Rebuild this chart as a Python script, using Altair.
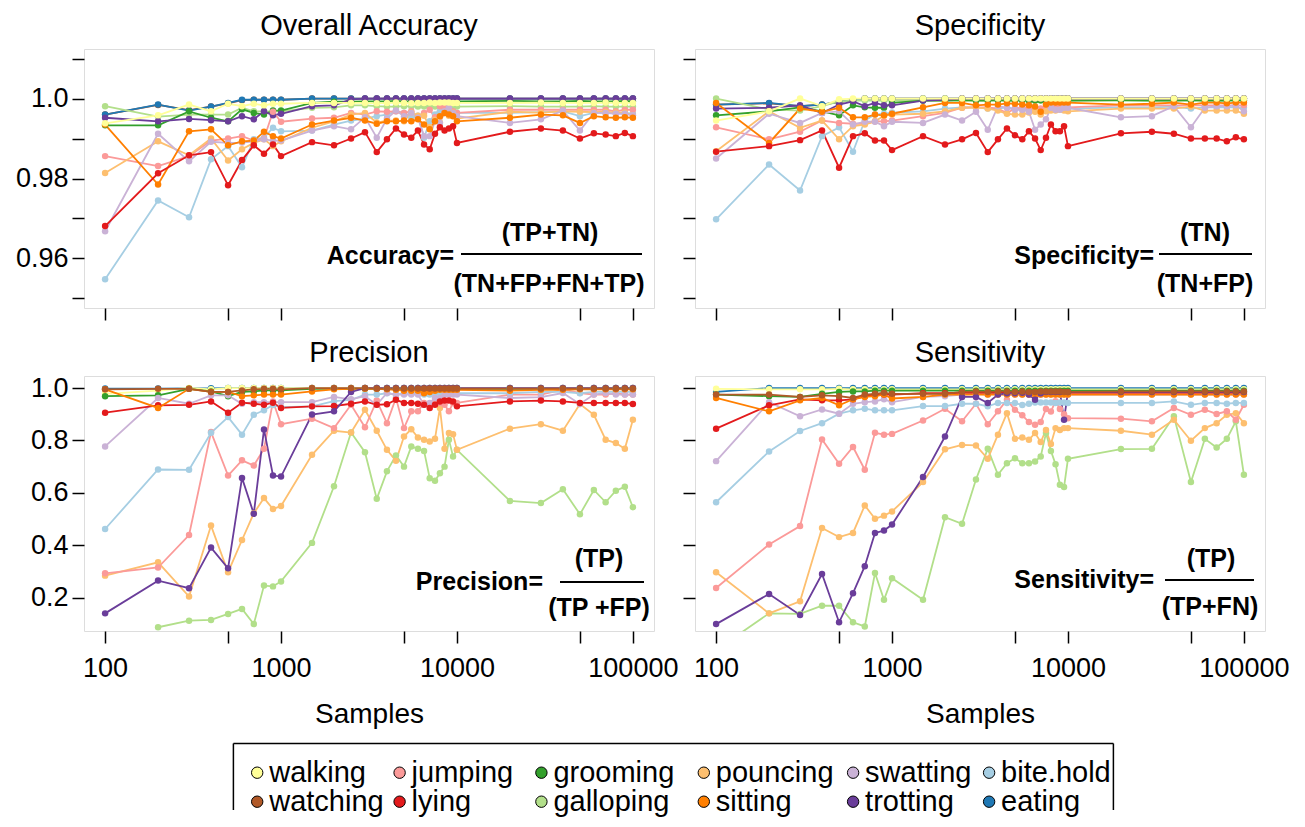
import altair as alt
import pandas as pd

# ---------------- data ----------------
samples = [100, 200, 300, 400, 500, 600, 700, 800, 900, 1000,
           1500, 2000, 2500, 3000, 3500, 4000, 4500, 5000, 5500, 6000,
           6500, 7000, 7500, 8000, 8500, 9000, 9500, 10000,
           20000, 30000, 40000, 50000, 60000, 70000, 80000, 90000, 100000]

behaviours = ["walking", "jumping", "grooming", "pouncing", "swatting", "bite.hold",
              "watching", "lying", "galloping", "sitting", "trotting", "eating"]
colors = ["#FFFF99", "#FB9A99", "#33A02C", "#FDBF6F", "#CAB2D6", "#A6CEE3",
          "#B15928", "#E31A1C", "#B2DF8A", "#FF7F00", "#6A3D9A", "#1F78B4"]

x_tick_values = [100, 500, 1000, 5000, 10000, 50000, 100000]
x_tick_labels = ["100", "", "1000", "", "10000", "", "100000"]
top_tick_values = [0.95, 0.96, 0.97, 0.98, 0.99, 1.0, 1.01]
top_tick_labels = ["", "0.96", "", "0.98", "", "1.0", ""]
bot_tick_values = [0.2, 0.4, 0.6, 0.8, 1.0]
bot_tick_labels = ["0.2", "0.4", "0.6", "0.8", "1.0"]

panel_titles = ["Overall Accuracy", "Specificity", "Precision", "Sensitivity"]
x_title = "Samples"
formula_lhs = ["Accuracy=", "Specificity=", "Precision=", "Sensitivity="]
formula_num = ["(TP+TN)", "(TN)", "(TP)", "(TP)"]
formula_den = ["(TN+FP+FN+TP)", "(TN+FP)", "(TP +FP)", "(TP+FN)"]

# ---- Overall accuracy ----
acc_walking = [0.9938, 0.9958, 0.9985, 0.9968, 0.9987, 0.9981, 0.9987, 0.9983, 0.9987, 0.9987,
               0.9989, 0.9989, 0.9989, 0.9989, 0.9988, 0.9989, 0.9990, 0.9989, 0.9988, 0.9989,
               0.9989, 0.9990, 0.9989, 0.9990, 0.9990, 0.9990, 0.9989, 0.9989,
               0.9989, 0.9990, 0.9989, 0.9989, 0.9989, 0.9990, 0.9989, 0.9989, 0.9989]
acc_jumping = [0.9856, 0.9831, 0.9856, 0.9895, 0.9900, 0.9906, 0.9895, 0.9900, 0.9967, 0.9942,
               0.9950, 0.9952, 0.9964, 0.9960, 0.9968, 0.9967, 0.9968, 0.9964, 0.9968, 0.9952,
               0.9964, 0.9972, 0.9953, 0.9981, 0.9977, 0.9977, 0.9968, 0.9964,
               0.9972, 0.9972, 0.9972, 0.9972, 0.9972, 0.9972, 0.9968, 0.9972, 0.9972]
acc_grooming = [0.9933, 0.9933, 0.9968, 0.9952, 0.9943, 0.9973, 0.9964, 0.9960, 0.9970, 0.9970,
                0.9989, 0.9992, 0.9992, 0.9993, 0.9993, 0.9993, 0.9994, 0.9993, 0.9993, 0.9993,
                0.9993, 0.9993, 0.9994, 0.9993, 0.9993, 0.9993, 0.9993, 0.9993,
                0.9994, 0.9993, 0.9993, 0.9994, 0.9993, 0.9993, 0.9993, 0.9994, 0.9993]
acc_pouncing = [0.9814, 0.9893, 0.9858, 0.9900, 0.9845, 0.9873, 0.9889, 0.9898, 0.9881, 0.9893,
                0.9927, 0.9943, 0.9960, 0.9964, 0.9940, 0.9945, 0.9945, 0.9943, 0.9965, 0.9957,
                0.9957, 0.9928, 0.9947, 0.9940, 0.9965, 0.9957, 0.9965, 0.9950,
                0.9967, 0.9965, 0.9968, 0.9967, 0.9966, 0.9967, 0.9965, 0.9965, 0.9958]
acc_swatting = [0.9668, 0.9912, 0.9843, 0.9892, 0.9889, 0.9890, 0.9893, 0.9898, 0.9895, 0.9895,
                0.9920, 0.9931, 0.9923, 0.9953, 0.9902, 0.9950, 0.9970, 0.9956, 0.9964, 0.9952,
                0.9906, 0.9906, 0.9943, 0.9939, 0.9968, 0.9977, 0.9964, 0.9956,
                0.9939, 0.9948, 0.9970, 0.9920, 0.9964, 0.9964, 0.9962, 0.9962, 0.9958]
acc_bitehold = [0.9548, 0.9745, 0.9703, 0.9848, 0.9881, 0.9828, 0.9898, 0.9902, 0.9927, 0.9918,
                0.9920, 0.9935, 0.9945, 0.9950, 0.9956, 0.9960, 0.9968, 0.9964, 0.9952, 0.9957,
                0.9902, 0.9943, 0.9960, 0.9968, 0.9964, 0.9968, 0.9967, 0.9964,
                0.9964, 0.9966, 0.9968, 0.9956, 0.9964, 0.9964, 0.9964, 0.9964, 0.9962]
acc_watching = [0.9960, 0.9984, 0.9971, 0.9980, 0.9988, 0.9996, 0.9997, 0.9997, 0.9997, 0.9997,
                1.0000, 1.0000, 1.0000, 1.0000, 1.0000, 1.0000, 1.0000, 1.0000, 1.0000, 1.0000,
                1.0000, 1.0000, 1.0000, 1.0000, 1.0000, 1.0000, 1.0000, 1.0000,
                1.0000, 1.0000, 1.0000, 1.0000, 1.0000, 1.0000, 1.0000, 1.0000, 1.0000]
acc_lying = [0.9681, 0.9813, 0.9858, 0.9866, 0.9783, 0.9846, 0.9883, 0.9862, 0.9885, 0.9856,
             0.9891, 0.9883, 0.9900, 0.9916, 0.9866, 0.9898, 0.9925, 0.9910, 0.9902, 0.9920,
             0.9885, 0.9873, 0.9912, 0.9928, 0.9920, 0.9925, 0.9931, 0.9889,
             0.9917, 0.9925, 0.9920, 0.9900, 0.9913, 0.9910, 0.9906, 0.9914, 0.9906]
acc_galloping = [0.9981, 0.9955, 0.9960, 0.9960, 0.9960, 0.9977, 0.9968, 0.9968, 0.9968, 0.9968,
                 0.9977, 0.9978, 0.9983, 0.9983, 0.9981, 0.9980, 0.9980, 0.9981, 0.9980, 0.9980,
                 0.9980, 0.9981, 0.9980, 0.9980, 0.9981, 0.9980, 0.9980, 0.9980,
                 0.9981, 0.9980, 0.9980, 0.9980, 0.9981, 0.9980, 0.9980, 0.9980, 0.9980]
acc_sitting = [0.9935, 0.9785, 0.9918, 0.9923, 0.9883, 0.9893, 0.9895, 0.9917, 0.9906, 0.9900,
               0.9935, 0.9945, 0.9952, 0.9945, 0.9937, 0.9943, 0.9943, 0.9945, 0.9943, 0.9948,
               0.9935, 0.9923, 0.9943, 0.9956, 0.9964, 0.9960, 0.9956, 0.9943,
               0.9952, 0.9960, 0.9958, 0.9939, 0.9956, 0.9953, 0.9952, 0.9953, 0.9952]
acc_trotting = [0.9952, 0.9943, 0.9949, 0.9946, 0.9943, 0.9956, 0.9948, 0.9968, 0.9958, 0.9962,
                0.9981, 0.9983, 0.9998, 1.0000, 1.0000, 1.0000, 1.0000, 1.0000, 1.0000, 1.0000,
                1.0000, 1.0000, 1.0000, 1.0000, 1.0000, 1.0000, 1.0000, 1.0000,
                1.0000, 1.0000, 1.0000, 1.0000, 1.0000, 1.0000, 1.0000, 1.0000, 1.0000]
acc_eating = [0.9960, 0.9985, 0.9970, 0.9980, 0.9989, 0.9997, 0.9997, 0.9997, 0.9997, 0.9997,
              1.0000, 1.0000, 1.0000, 1.0000, 1.0000, 1.0000, 1.0000, 1.0000, 1.0000, 1.0000,
              1.0000, 1.0000, 1.0000, 1.0000, 1.0000, 1.0000, 1.0000, 1.0000,
              1.0000, 1.0000, 1.0000, 1.0000, 1.0000, 1.0000, 1.0000, 1.0000, 1.0000]

# ---- Specificity ----
spe_walking = [0.9945, 0.9968, 1.0000, 0.9981, 0.9998, 1.0000, 1.0000, 1.0000, 1.0000, 1.0000,
               1.0000, 1.0000, 1.0000, 1.0000, 1.0000, 1.0000, 1.0000, 1.0000, 1.0000, 1.0000,
               1.0000, 1.0000, 1.0000, 1.0000, 1.0000, 1.0000, 1.0000, 1.0000,
               1.0000, 1.0000, 1.0000, 1.0000, 1.0000, 1.0000, 1.0000, 1.0000, 1.0000]
spe_jumping = [0.9928, 0.9898, 0.9917, 0.9945, 0.9939, 0.9937, 0.9937, 0.9943, 0.9943, 0.9945,
               0.9956, 0.9964, 0.9977, 0.9978, 0.9978, 0.9975, 0.9964, 0.9975, 0.9978, 0.9975,
               0.9970, 0.9975, 0.9978, 0.9980, 0.9978, 0.9978, 0.9978, 0.9978,
               0.9983, 0.9983, 0.9983, 0.9983, 0.9983, 0.9983, 0.9983, 0.9983, 0.9983]
spe_grooming = [0.9958, 0.9968, 0.9978, 0.9968, 0.9958, 0.9983, 0.9978, 0.9977, 0.9977, 0.9989,
                0.9995, 0.9995, 0.9996, 0.9995, 0.9995, 0.9996, 0.9995, 0.9995, 0.9996, 0.9995,
                0.9995, 0.9996, 0.9995, 0.9995, 0.9996, 0.9995, 0.9995, 0.9995,
                0.9996, 0.9995, 0.9995, 0.9996, 0.9995, 0.9995, 0.9995, 0.9996, 0.9995]
spe_pouncing = [0.9868, 0.9968, 0.9927, 0.9945, 0.9898, 0.9931, 0.9935, 0.9943, 0.9957, 0.9960,
                0.9962, 0.9968, 0.9977, 0.9978, 0.9975, 0.9970, 0.9962, 0.9960, 0.9960, 0.9965,
                0.9967, 0.9960, 0.9968, 0.9970, 0.9970, 0.9972, 0.9970, 0.9968,
                0.9975, 0.9975, 0.9975, 0.9980, 0.9970, 0.9970, 0.9970, 0.9970, 0.9962]
spe_swatting = [0.9850, 0.9962, 0.9939, 0.9964, 0.9968, 0.9935, 0.9942, 0.9942, 0.9931, 0.9942,
                0.9939, 0.9960, 0.9945, 0.9967, 0.9922, 0.9981, 0.9977, 0.9972, 0.9972, 0.9967,
                0.9922, 0.9935, 0.9948, 0.9977, 0.9972, 0.9972, 0.9977, 0.9977,
                0.9953, 0.9956, 0.9981, 0.9928, 0.9977, 0.9981, 0.9981, 0.9983, 0.9968]
spe_bitehold = [0.9698, 0.9835, 0.9770, 0.9906, 0.9928, 0.9867, 0.9945, 0.9960, 0.9962, 0.9965,
                0.9968, 0.9975, 0.9978, 0.9978, 0.9975, 0.9975, 0.9978, 0.9975, 0.9972, 0.9975,
                0.9970, 0.9972, 0.9975, 0.9978, 0.9975, 0.9978, 0.9978, 0.9975,
                0.9978, 0.9978, 0.9980, 0.9975, 0.9978, 0.9978, 0.9978, 0.9978, 0.9978]
spe_watching = [0.9985, 0.9988, 0.9981, 0.9985, 0.9991, 0.9996, 1.0000, 1.0000, 1.0000, 1.0000,
                1.0000, 1.0000, 1.0000, 1.0000, 1.0000, 1.0000, 1.0000, 1.0000, 1.0000, 1.0000,
                1.0000, 1.0000, 1.0000, 1.0000, 1.0000, 1.0000, 1.0000, 1.0000,
                1.0000, 1.0000, 1.0000, 1.0000, 1.0000, 1.0000, 1.0000, 1.0000, 1.0000]
spe_lying = [0.9867, 0.9881, 0.9896, 0.9920, 0.9827, 0.9906, 0.9913, 0.9895, 0.9895, 0.9871,
             0.9906, 0.9885, 0.9898, 0.9914, 0.9866, 0.9898, 0.9925, 0.9908, 0.9898, 0.9918,
             0.9900, 0.9871, 0.9902, 0.9935, 0.9918, 0.9918, 0.9931, 0.9881,
             0.9913, 0.9917, 0.9912, 0.9900, 0.9900, 0.9900, 0.9893, 0.9903, 0.9898]
spe_galloping = [1.0000, 0.9973, 0.9970, 0.9981, 0.9993, 0.9995, 0.9995, 0.9995, 0.9995, 0.9995,
                 0.9995, 0.9995, 0.9995, 0.9995, 0.9995, 0.9995, 0.9995, 0.9995, 0.9995, 0.9995,
                 0.9995, 0.9995, 0.9995, 0.9995, 0.9995, 0.9995, 0.9995, 0.9995,
                 0.9995, 0.9995, 0.9995, 0.9995, 0.9995, 0.9995, 0.9995, 0.9995, 0.9995]
spe_sitting = [0.9989, 0.9889, 0.9975, 0.9967, 0.9977, 0.9953, 0.9953, 0.9960, 0.9958, 0.9962,
               0.9978, 0.9989, 0.9989, 0.9983, 0.9985, 0.9985, 0.9988, 0.9987, 0.9985, 0.9983,
               0.9980, 0.9967, 0.9985, 0.9990, 0.9990, 0.9990, 0.9990, 0.9990,
               0.9985, 0.9987, 0.9990, 0.9985, 0.9990, 0.9990, 0.9988, 0.9990, 0.9990]
spe_trotting = [0.9975, 0.9977, 0.9983, 0.9964, 0.9985, 0.9993, 0.9981, 0.9989, 0.9983, 0.9983,
                0.9995, 0.9997, 1.0000, 1.0000, 1.0000, 1.0000, 1.0000, 1.0000, 1.0000, 1.0000,
                1.0000, 1.0000, 1.0000, 1.0000, 1.0000, 1.0000, 1.0000, 1.0000,
                1.0000, 1.0000, 1.0000, 1.0000, 1.0000, 1.0000, 1.0000, 1.0000, 1.0000]
spe_eating = [0.9985, 0.9989, 0.9981, 0.9985, 0.9992, 0.9996, 1.0000, 1.0000, 1.0000, 1.0000,
              1.0000, 1.0000, 1.0000, 1.0000, 1.0000, 1.0000, 1.0000, 1.0000, 1.0000, 1.0000,
              1.0000, 1.0000, 1.0000, 1.0000, 1.0000, 1.0000, 1.0000, 1.0000,
              1.0000, 1.0000, 1.0000, 1.0000, 1.0000, 1.0000, 1.0000, 1.0000, 1.0000]

# ---- Precision ----
pre_walking = [0.978, 0.990, 1.000, 0.995, 1.000, 1.000, 1.000, 1.000, 1.000, 1.000,
               1.000, 1.000, 1.000, 1.000, 1.000, 1.000, 1.000, 1.000, 1.000, 1.000,
               1.000, 1.000, 1.000, 1.000, 1.000, 1.000, 1.000, 1.000,
               1.000, 1.000, 1.000, 1.000, 1.000, 1.000, 1.000, 1.000, 1.000]
pre_jumping = [0.293, 0.315, 0.439, 0.832, 0.666, 0.724, 0.704, 0.768, 0.949, 0.862,
               0.883, 0.847, 0.936, 0.850, 0.952, 0.866, 0.962, 0.847, 0.911, 0.911,
               0.943, 0.936, 0.943, 0.943, 0.936, 0.911, 0.943, 0.943,
               0.975, 0.975, 0.994, 0.981, 0.975, 0.975, 0.981, 0.975, 0.975]
pre_grooming = [0.969, 0.972, 0.997, 0.987, 0.969, 0.985, 0.987, 0.991, 0.991, 0.991,
                0.997, 0.997, 0.997, 0.997, 0.997, 0.997, 0.997, 0.997, 0.997, 0.997,
                0.997, 0.997, 0.997, 0.997, 0.997, 0.997, 0.997, 0.997,
                0.997, 0.997, 0.997, 0.997, 0.997, 0.997, 0.997, 0.997, 0.997]
pre_pouncing = [0.284, 0.335, 0.204, 0.475, 0.297, 0.420, 0.522, 0.580, 0.538, 0.550,
                0.745, 0.837, 0.830, 0.917, 0.837, 0.764, 0.722, 0.815, 0.843, 0.811,
                0.803, 0.796, 0.806, 0.924, 0.768, 0.828, 0.824, 0.764,
                0.845, 0.862, 0.837, 0.939, 0.898, 0.803, 0.790, 0.768, 0.879]
pre_swatting = [0.777, 0.962, 0.940, 0.972, 0.972, 0.940, 0.946, 0.946, 0.946, 0.946,
                0.946, 0.966, 0.957, 0.969, 0.936, 0.981, 0.975, 0.975, 0.975, 0.975,
                0.936, 0.943, 0.962, 0.962, 0.975, 0.975, 0.975, 0.975,
                0.962, 0.965, 0.981, 0.939, 0.975, 0.981, 0.975, 0.975, 0.975]
pre_bitehold = [0.462, 0.689, 0.688, 0.829, 0.889, 0.822, 0.898, 0.915, 0.935, 0.927,
                0.930, 0.950, 0.955, 0.975, 0.975, 0.980, 0.975, 0.980, 0.980, 0.980,
                0.975, 0.975, 0.980, 0.980, 0.980, 0.980, 0.980, 0.980,
                0.980, 0.985, 0.985, 0.980, 0.985, 0.985, 0.985, 0.985, 0.985]
pre_watching = [0.995, 0.997, 0.997, 0.985, 0.985, 0.991, 0.995, 0.997, 0.997, 0.995,
                1.000, 1.000, 1.000, 1.000, 0.998, 0.998, 0.998, 0.998, 0.998, 0.998,
                0.998, 0.998, 0.998, 0.998, 0.998, 0.998, 0.998, 0.998,
                0.998, 0.998, 0.998, 0.998, 0.998, 0.998, 0.998, 0.998, 0.998]
pre_lying = [0.906, 0.934, 0.936, 0.949, 0.906, 0.944, 0.940, 0.936, 0.944, 0.924,
             0.930, 0.931, 0.940, 0.949, 0.936, 0.938, 0.955, 0.943, 0.943, 0.940,
             0.936, 0.924, 0.936, 0.949, 0.952, 0.952, 0.949, 0.930,
             0.949, 0.952, 0.949, 0.943, 0.943, 0.943, 0.943, 0.943, 0.939]
pre_galloping = [None, 0.087, 0.112, 0.115, 0.138, 0.157, 0.099, 0.246, 0.243, 0.262,
                 0.409, 0.625, 0.830, 0.755, 0.577, 0.682, 0.743, 0.700, 0.777, 0.768,
                 0.760, 0.656, 0.646, 0.675, 0.700, 0.803, 0.739, 0.764,
                 0.569, 0.561, 0.614, 0.518, 0.611, 0.564, 0.608, 0.623, 0.545]
pre_sitting = [0.995, 0.924, 0.997, 0.985, 0.985, 0.969, 0.972, 0.975, 0.975, 0.975,
               0.987, 0.995, 0.997, 0.997, 0.997, 0.995, 0.993, 0.990, 0.990, 0.990,
               0.980, 0.985, 0.990, 0.993, 0.993, 0.993, 0.993, 0.993,
               0.990, 0.993, 0.993, 0.995, 0.995, 0.995, 0.995, 0.995, 0.995]
pre_trotting = [0.140, 0.265, 0.236, 0.391, 0.312, 0.657, 0.520, 0.842, 0.666, 0.662,
                0.899, 0.911, 0.985, 1.000, 1.000, 1.000, 1.000, 1.000, 1.000, 1.000,
                1.000, 1.000, 1.000, 1.000, 1.000, 1.000, 1.000, 1.000,
                1.000, 1.000, 1.000, 1.000, 1.000, 1.000, 1.000, 1.000, 1.000]
pre_eating = [0.998, 0.998, 0.999, 0.999, 1.000, 1.000, 1.000, 1.000, 1.000, 1.000,
              1.000, 1.000, 1.000, 1.000, 1.000, 1.000, 1.000, 1.000, 1.000, 1.000,
              1.000, 1.000, 1.000, 1.000, 1.000, 1.000, 1.000, 1.000,
              1.000, 1.000, 1.000, 1.000, 1.000, 1.000, 1.000, 1.000, 1.000]

# ---- Sensitivity ----
sen_walking = [0.997, 0.995, 0.995, 0.995, 0.997, 0.995, 0.995, 0.995, 0.995, 0.995,
               0.995, 0.995, 0.995, 0.995, 0.995, 0.995, 0.995, 0.995, 0.995, 0.995,
               0.995, 0.995, 0.995, 0.995, 0.995, 0.995, 0.995, 0.995,
               0.995, 0.995, 0.995, 0.995, 0.995, 0.995, 0.995, 0.995, 0.995]
sen_jumping = [0.237, 0.403, 0.473, 0.804, 0.711, 0.775, 0.688, 0.829, 0.822, 0.825,
               0.876, 0.921, 0.873, 0.940, 0.862, 0.911, 0.955, 0.917, 0.896, 0.870,
               0.860, 0.870, 0.920, 0.910, 0.950, 0.920, 0.900, 0.885,
               0.883, 0.873, 0.924, 0.898, 0.917, 0.901, 0.911, 0.879, 0.936]
sen_grooming = [0.975, 0.969, 0.966, 0.978, 0.985, 0.987, 0.987, 0.990, 0.990, 0.990,
                0.990, 0.990, 0.990, 0.990, 0.990, 0.990, 0.990, 0.990, 0.990, 0.990,
                0.990, 0.990, 0.990, 0.990, 0.990, 0.990, 0.990, 0.990,
                0.990, 0.990, 0.990, 0.990, 0.990, 0.990, 0.990, 0.990, 0.990]
sen_pouncing = [0.297, 0.140, 0.186, 0.466, 0.431, 0.447, 0.552, 0.501, 0.513, 0.529,
                0.641, 0.766, 0.783, 0.781, 0.730, 0.822, 0.904, 0.806, 0.811, 0.803,
                0.828, 0.794, 0.840, 0.786, 0.847, 0.840, 0.847, 0.847,
                0.837, 0.822, 0.879, 0.799, 0.847, 0.866, 0.898, 0.904, 0.866]
sen_swatting = [0.721, 0.946, 0.892, 0.918, 0.902, 0.940, 0.946, 0.949, 0.957, 0.946,
                0.966, 0.969, 0.975, 0.978, 0.975, 0.978, 0.975, 0.975, 0.975, 0.975,
                0.975, 0.975, 0.975, 0.975, 0.975, 0.975, 0.975, 0.975,
                0.975, 0.975, 0.975, 0.975, 0.975, 0.975, 0.975, 0.975, 0.975]
sen_bitehold = [0.564, 0.758, 0.836, 0.866, 0.902, 0.915, 0.921, 0.915, 0.915, 0.915,
                0.931, 0.931, 0.940, 0.940, 0.930, 0.943, 0.943, 0.943, 0.935, 0.940,
                0.945, 0.945, 0.945, 0.945, 0.943, 0.945, 0.945, 0.943,
                0.943, 0.943, 0.949, 0.936, 0.943, 0.943, 0.940, 0.943, 0.943]
sen_watching = [0.975, 0.975, 0.966, 0.972, 0.969, 0.962, 0.975, 0.978, 0.982, 0.978,
                0.978, 0.978, 0.985, 0.987, 0.985, 0.987, 0.987, 0.985, 0.987, 0.985,
                0.985, 0.987, 0.987, 0.987, 0.987, 0.987, 0.985, 0.985,
                0.987, 0.987, 0.987, 0.987, 0.987, 0.987, 0.987, 0.987, 0.987]
sen_lying = [0.845, 0.934, 0.957, 0.953, 0.953, 0.957, 0.969, 0.975, 0.975, 0.975,
             0.980, 0.980, 0.982, 0.982, 0.982, 0.982, 0.982, 0.982, 0.982, 0.982,
             0.982, 0.982, 0.982, 0.982, 0.982, 0.982, 0.982, 0.982,
             0.982, 0.982, 0.982, 0.982, 0.982, 0.982, 0.982, 0.982, 0.982]
sen_galloping = [0.000, 0.140, 0.138, 0.169, 0.169, 0.106, 0.090, 0.294, 0.192, 0.274,
                 0.192, 0.507, 0.482, 0.651, 0.768, 0.669, 0.713, 0.732, 0.713, 0.713,
                 0.720, 0.739, 0.828, 0.760, 0.709, 0.631, 0.622, 0.730,
                 0.767, 0.768, 0.892, 0.641, 0.806, 0.773, 0.806, 0.873, 0.669]
sen_sitting = [0.962, 0.911, 0.953, 0.962, 0.934, 0.957, 0.966, 0.969, 0.975, 0.960,
               0.966, 0.975, 0.975, 0.975, 0.975, 0.975, 0.975, 0.975, 0.975, 0.975,
               0.975, 0.975, 0.975, 0.975, 0.975, 0.975, 0.975, 0.975,
               0.975, 0.975, 0.975, 0.975, 0.975, 0.975, 0.975, 0.975, 0.975]
sen_trotting = [0.099, 0.214, 0.134, 0.290, 0.106, 0.217, 0.320, 0.447, 0.456, 0.479,
                0.660, 0.815, 0.966, 0.966, 0.943, 0.975, 0.980, 0.980, 0.982, 0.975,
                0.955, 0.980, 0.985, 0.985, 0.985, 0.985, 0.879, 0.985,
                0.985, 0.985, 0.985, 0.985, 0.985, 0.985, 0.985, 0.985, 0.985]
sen_eating = [0.985, 1.000, 1.000, 1.000, 1.000, 1.000, 1.000, 1.000, 1.000, 1.000,
              1.000, 1.000, 1.000, 1.000, 1.000, 1.000, 1.000, 1.000, 1.000, 1.000,
              1.000, 1.000, 1.000, 1.000, 1.000, 1.000, 1.000, 1.000,
              1.000, 1.000, 1.000, 1.000, 1.000, 1.000, 1.000, 1.000, 1.000]

accuracy = {"walking": acc_walking, "jumping": acc_jumping, "grooming": acc_grooming,
            "pouncing": acc_pouncing, "swatting": acc_swatting, "bite.hold": acc_bitehold,
            "watching": acc_watching, "lying": acc_lying, "galloping": acc_galloping,
            "sitting": acc_sitting, "trotting": acc_trotting, "eating": acc_eating}
specificity = {"walking": spe_walking, "jumping": spe_jumping, "grooming": spe_grooming,
               "pouncing": spe_pouncing, "swatting": spe_swatting, "bite.hold": spe_bitehold,
               "watching": spe_watching, "lying": spe_lying, "galloping": spe_galloping,
               "sitting": spe_sitting, "trotting": spe_trotting, "eating": spe_eating}
precision = {"walking": pre_walking, "jumping": pre_jumping, "grooming": pre_grooming,
             "pouncing": pre_pouncing, "swatting": pre_swatting, "bite.hold": pre_bitehold,
             "watching": pre_watching, "lying": pre_lying, "galloping": pre_galloping,
             "sitting": pre_sitting, "trotting": pre_trotting, "eating": pre_eating}
sensitivity = {"walking": sen_walking, "jumping": sen_jumping, "grooming": sen_grooming,
               "pouncing": sen_pouncing, "swatting": sen_swatting, "bite.hold": sen_bitehold,
               "watching": sen_watching, "lying": sen_lying, "galloping": sen_galloping,
               "sitting": sen_sitting, "trotting": sen_trotting, "eating": sen_eating}

for d in (accuracy, specificity, precision, sensitivity):
    for k, v in d.items():
        assert len(v) == len(samples), (k, len(v))

# drawing order (last drawn on top)
top_order = ["watching", "eating", "galloping", "grooming", "trotting", "bite.hold",
             "jumping", "pouncing", "swatting", "sitting", "lying", "walking"]
bot_order = ["eating", "walking", "grooming", "galloping", "pouncing", "jumping",
             "bite.hold", "swatting", "lying", "sitting", "trotting", "watching"]


def long_frame(series, order):
    rows = []
    for b in order:
        for s, v in zip(samples, series[b]):
            if v is not None:
                rows.append({"samples": s, "value": v, "behaviour": b, "rank": order.index(b)})
    return pd.DataFrame(rows)


# ---------------- layout constants ----------------
FONT = "Liberation Sans"
PW = 570
TOP_H = 259
BOT_H = 255
X_DOMAIN = [10 ** 1.88, 10 ** 5.12]
TOP_DOMAIN = [0.9476, 1.0124]
BOT_DOMAIN = [0.0727, 1.0459]

color_scale = alt.Scale(domain=behaviours, range=colors)


def label_expr(values, labels):
    expr = "''"
    for v, l in zip(values, labels):
        if l:
            expr = f"abs(datum.value - {v}) < 1e-9 ? '{l}' : " + expr
    return expr


def panel(df, idx, h, ydom, yvals, ylabs, show_ylab, show_xlab, fpos):
    xaxis = alt.Axis(values=x_tick_values, labelExpr=label_expr(x_tick_values, x_tick_labels),
                     labels=show_xlab, title=x_title if show_xlab else "",
                     tickSize=12, tickWidth=1.5, tickColor="black", domain=False, grid=False,
                     labelFontSize=27, labelFont=FONT, labelColor="black", labelPadding=12,
                     labelOverlap=False, labelFlush=False,
                     titleFontSize=28, titleFont=FONT, titleFontWeight="normal",
                     titleColor="black", titlePadding=19)
    yaxis = alt.Axis(values=yvals, labelExpr=label_expr(yvals, ylabs), labels=show_ylab,
                     title="", tickSize=12, tickWidth=1.5, tickColor="black", domain=False,
                     grid=False, labelFontSize=27, labelFont=FONT, labelColor="black",
                     labelPadding=4, labelOverlap=False, labelFlush=False)
    x = alt.X("samples:Q", scale=alt.Scale(type="log", domain=X_DOMAIN, nice=False), axis=xaxis)
    y = alt.Y("value:Q", scale=alt.Scale(domain=ydom, nice=False, zero=False), axis=yaxis)
    col = alt.Color("behaviour:N", scale=color_scale, legend=None)
    base = alt.Chart(df)
    lines = base.mark_line(clip=True, strokeWidth=1.8).encode(x=x, y=y, color=col)
    pts = base.mark_circle(clip=True, size=42, opacity=1).encode(
        x=x, y=y, color=col, order=alt.Order("rank:Q"))

    one = alt.Chart(pd.DataFrame({"k": [0]}))
    (lx, ly), (r1, r2, ry), (nx, ny), (dx, dy) = fpos
    tstyle = dict(fontSize=25, fontWeight="bold", font=FONT, color="black", baseline="middle")
    t_lhs = one.mark_text(text=formula_lhs[idx], align="right", **tstyle).encode(
        x=alt.value(lx), y=alt.value(ly))
    t_num = one.mark_text(text=formula_num[idx], align="center", **tstyle).encode(
        x=alt.value(nx), y=alt.value(ny))
    t_den = one.mark_text(text=formula_den[idx], align="center", **tstyle).encode(
        x=alt.value(dx), y=alt.value(dy))
    bar = one.mark_rule(color="black", strokeWidth=2).encode(
        x=alt.value(r1), x2=alt.value(r2), y=alt.value(ry))
    # panel heading, placed above the plot frame
    head = one.mark_text(text=panel_titles[idx], align="center", baseline="alphabetic",
                         fontSize=29, font=FONT, color="black").encode(
        x=alt.value(PW / 2), y=alt.value(-14.5))
    return alt.layer(lines, pts, t_lhs, t_num, t_den, bar, head).properties(width=PW, height=h)


p1 = panel(long_frame(accuracy, top_order), 0, TOP_H, TOP_DOMAIN, top_tick_values,
           top_tick_labels, True, False,
           ((370, 207), (377, 558, 205), (466, 184), (465, 235)))
p2 = panel(long_frame(specificity, top_order), 1, TOP_H, TOP_DOMAIN, top_tick_values,
           top_tick_labels, False, False,
           ((459, 207), (464, 557, 205), (510, 184), (510, 235)))
p3 = panel(long_frame(precision, bot_order), 2, BOT_H, BOT_DOMAIN, bot_tick_values,
           bot_tick_labels, True, True,
           ((459, 206), (476, 560, 206), (515, 183), (515, 232)))
p4 = panel(long_frame(sensitivity, bot_order), 3, BOT_H, BOT_DOMAIN, bot_tick_values,
           bot_tick_labels, False, True,
           ((459, 204), (470, 559, 204), (516, 183), (515, 231)))

# ---------------- legend (drawn with marks inside a bordered box) ----------------
legend_df = pd.DataFrame({"behaviour": behaviours,
                          "col": [i % 6 for i in range(len(behaviours))],
                          "row": [i // 6 for i in range(len(behaviours))]})
LEG_CELL_H = 111
BOX_L, BOX_R, BOX_T = 149.4, 1029.4, 44.5
lx = alt.X("col:Q", axis=None,
           scale=alt.Scale(domain=[0, 1, 2, 3, 4, 5],
                           range=[173.2, 315.6, 457.4, 619.8, 769.1, 905.1]))
ly = alt.Y("row:Q", axis=None, scale=alt.Scale(domain=[0, 1], range=[73.7, 102.7]))
leg_base = alt.Chart(legend_df)
leg_sym = leg_base.mark_circle(size=130, opacity=1, stroke="black", strokeWidth=1).encode(
    x=lx, y=ly, color=alt.Color("behaviour:N", scale=color_scale, legend=None))
leg_txt = leg_base.mark_text(align="left", baseline="middle", dx=12, fontSize=29, font=FONT,
                             color="black").encode(x=lx, y=ly, text="behaviour:N")
side = alt.Chart(pd.DataFrame({"k": [0]})).mark_rule(color="black", strokeWidth=1.5)
b_left = side.encode(x=alt.value(BOX_L), y=alt.value(BOX_T), y2=alt.value(LEG_CELL_H))
b_right = side.encode(x=alt.value(BOX_R), y=alt.value(BOX_T), y2=alt.value(LEG_CELL_H))
b_top = side.encode(x=alt.value(BOX_L), x2=alt.value(BOX_R), y=alt.value(BOX_T))
legend_box = alt.layer(b_left, b_right, b_top, leg_sym, leg_txt).properties(
    width=PW, height=LEG_CELL_H, view=alt.ViewBackground(stroke="transparent"))

chart = alt.concat(p1, p2, p3, p4, legend_box, columns=2,
                   spacing={"row": 68, "column": 41}, bounds="flush").properties(
    padding={"left": 6, "top": 3, "right": 0, "bottom": 0}
).configure_view(stroke="black", strokeWidth=1.5).configure(background="white")

chart.save("out.html", embed_options={"renderer": "svg", "actions": False})
